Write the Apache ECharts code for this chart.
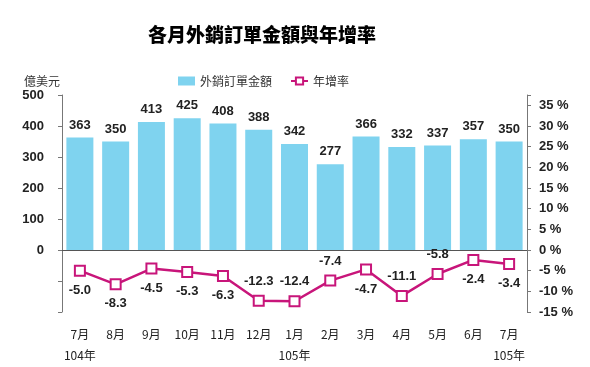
<!DOCTYPE html>
<html><head><meta charset="utf-8">
<script src="https://cdn.jsdelivr.net/npm/echarts@6/dist/echarts.min.js"></script>
<style>html,body{margin:0;padding:0;background:#fff}#c{width:590px;height:367px}</style>
</head><body><div id="c"></div>
<script>
const categories = ['7月','8月','9月','10月','11月','12月','1月','2月','3月','4月','5月','6月','7月'];
const yearLabels = ['104年','','','','','','105年','','','','','','105年'];
const orders = [363, 350, 413, 425, 408, 388, 342, 277, 366, 332, 337, 357, 350];
const growth = [-5.0, -8.3, -4.5, -5.3, -6.3, -12.3, -12.4, -7.4, -4.7, -11.1, -5.8, -2.4, -3.4];
const growthLabelPos = ['bottom','bottom','bottom','bottom','bottom','top','top','top','bottom','top','top','bottom','bottom'];
const leftTicks = [0, 100, 200, 300, 400, 500];
const rightTicks = [-15,-10,-5,0,5,10,15,20,25,30,35];

const numFont = '"Liberation Sans Narrow", "Liberation Sans", Arial, sans-serif';
const cjkFont = '"Noto Sans CJK TC", "Noto Sans CJK SC", sans-serif';
const barColor = '#7fd3ef';
const lineColor = '#c8157a';

const chart = echarts.init(document.getElementById('c'));
chart.setOption({
  animation: false,
  title: {
    text: '各月外銷訂單金額與年增率',
    left: 143, top: 20,
    textStyle: { fontFamily: cjkFont, fontWeight: 900, fontSize: 19, color: '#000' }
  },
  legend: {
    top: 70, left: 173,
    itemGap: 18,
    textStyle: { fontFamily: cjkFont, fontSize: 12, color: '#333' },
    data: [
      { name: '外銷訂單金額', icon: 'rect', itemStyle: { color: barColor } },
      { name: '年增率' }
    ],
    itemWidth: 17, itemHeight: 9
  },
  grid: { left: 62, right: 63, top: 95, bottom: 55 },
  xAxis: [{
    type: 'category',
    data: categories,
    position: 'bottom',
    axisLine: { show: false },
    axisTick: { show: false },
    axisLabel: {
      margin: 12,
      interval: 0,
      formatter: (v, i) => yearLabels[i] ? v + '\n{y|' + yearLabels[i] + '}' : v,
      fontFamily: cjkFont, fontSize: 12, color: '#222', lineHeight: 20,
      rich: { y: { fontFamily: cjkFont, fontSize: 12, color: '#222', lineHeight: 22 } }
    }
  }, {
    type: 'category',
    data: categories,
    axisLine: { show: true, onZero: true, onZeroAxisIndex: 0, lineStyle: { color: '#555', width: 1 } },
    axisTick: { show: false },
    axisLabel: { show: false }
  }],
  yAxis: [{
    type: 'value',
    name: '億美元',
    nameGap: 8,
    nameTextStyle: { fontFamily: cjkFont, fontSize: 12, color: '#333', align: 'right', padding: [0, 2, 0, 0] },
    min: -200, max: 500, interval: 100,
    splitLine: { show: false },
    axisLine: { show: true, lineStyle: { color: '#777' } },
    axisTick: { show: true, length: 4, lineStyle: { color: '#777' } },
    axisLabel: {
      margin: 18,
      fontFamily: numFont, fontWeight: 'bold', fontSize: 13, color: '#222',
      formatter: v => leftTicks.indexOf(v) >= 0 ? String(v) : ''
    }
  }, {
    type: 'value',
    min: -15, max: 37.5, interval: 5,
    splitLine: { show: false },
    axisLine: { show: true, lineStyle: { color: '#777' } },
    axisTick: { show: true, length: 4, lineStyle: { color: '#777' } },
    axisLabel: {
      margin: 12,
      fontFamily: numFont, fontWeight: 'bold', fontSize: 13, color: '#222',
      formatter: v => rightTicks.indexOf(v) >= 0 ? v + ' %' : ''
    }
  }],
  series: [{
    name: '外銷訂單金額',
    type: 'bar',
    yAxisIndex: 0,
    data: orders,
    barWidth: 27,
    itemStyle: { color: barColor },
    label: {
      show: true, position: 'top', distance: 6,
      fontFamily: numFont, fontWeight: 'bold', fontSize: 13, color: '#222'
    }
  }, {
    name: '年增率',
    type: 'line',
    yAxisIndex: 1,
    data: growth.map((v, i) => ({
      value: v,
      label: { position: growthLabelPos[i] }
    })),
    symbol: 'rect',
    symbolSize: 10,
    lineStyle: { color: lineColor, width: 2.5 },
    itemStyle: { color: '#fff', borderColor: lineColor, borderWidth: 2 },
    label: {
      show: true, distance: 7,
      fontFamily: numFont, fontWeight: 'bold', fontSize: 13, color: '#222',
      formatter: p => p.value.toFixed(1)
    },
    z: 5
  }]
});
</script>
</body></html>
